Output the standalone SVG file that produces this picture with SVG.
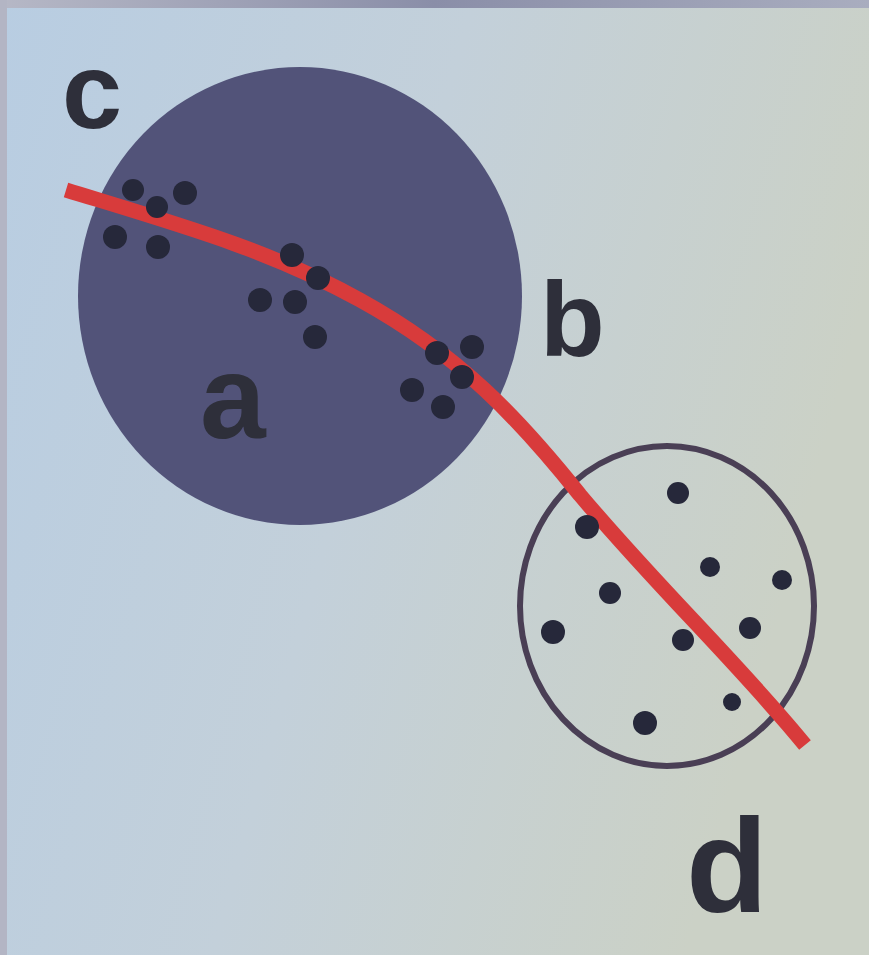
<svg xmlns="http://www.w3.org/2000/svg" width="869" height="955" viewBox="0 0 869 955">
<defs>
<linearGradient id="bg" x1="0" y1="0" x2="1" y2="0.3">
<stop offset="0" stop-color="#b8cde2"/>
<stop offset="0.5" stop-color="#c3d0da"/>
<stop offset="1" stop-color="#cbd1c6"/>
</linearGradient>
<linearGradient id="frame" x1="0" y1="0" x2="1" y2="0">
<stop offset="0" stop-color="#b6b8c6"/>
<stop offset="0.5" stop-color="#8a8ea8"/>
<stop offset="1" stop-color="#a9adbf"/>
</linearGradient>
<style>
.dot{fill:#26283a}
.lbl{font-family:"Liberation Sans",Arial,sans-serif;font-weight:bold;fill:#2e2f3a}
</style>
</defs>
<rect width="869" height="955" fill="url(#bg)"/>
<rect width="869" height="8" fill="url(#frame)"/>
<rect width="7" height="955" fill="#b3b5c4"/>
<g id="circle-a">
<ellipse cx="300" cy="296" rx="222" ry="229" fill="#525379"/>
</g>
<g id="circle-d">
<ellipse cx="667" cy="606" rx="147" ry="160" fill="none" stroke="#4a3f55" stroke-width="6"/>
</g>
<g id="connectors">
<path d="M66,190 C180,225 270,250 360,300 C460,355 520,420 580,495 C660,590 740,665 805,745" fill="none" stroke="#d83b3b" stroke-width="15"/>
</g>
<g id="dots-a">
<circle class="dot" cx="133" cy="190" r="11"/>
<circle class="dot" cx="185" cy="193" r="12"/>
<circle class="dot" cx="157" cy="207" r="11"/>
<circle class="dot" cx="115" cy="237" r="12"/>
<circle class="dot" cx="158" cy="247" r="12"/>
<circle class="dot" cx="292" cy="255" r="12"/>
<circle class="dot" cx="318" cy="278" r="12"/>
<circle class="dot" cx="260" cy="300" r="12"/>
<circle class="dot" cx="295" cy="302" r="12"/>
<circle class="dot" cx="315" cy="337" r="12"/>
<circle class="dot" cx="437" cy="353" r="12"/>
<circle class="dot" cx="472" cy="347" r="12"/>
<circle class="dot" cx="462" cy="377" r="12"/>
<circle class="dot" cx="412" cy="390" r="12"/>
<circle class="dot" cx="443" cy="407" r="12"/>
</g>
<g id="dots-d">
<circle class="dot" cx="678" cy="493" r="11"/>
<circle class="dot" cx="587" cy="527" r="12"/>
<circle class="dot" cx="710" cy="567" r="10"/>
<circle class="dot" cx="782" cy="580" r="10"/>
<circle class="dot" cx="610" cy="593" r="11"/>
<circle class="dot" cx="553" cy="632" r="12"/>
<circle class="dot" cx="683" cy="640" r="11"/>
<circle class="dot" cx="750" cy="628" r="11"/>
<circle class="dot" cx="732" cy="702" r="9"/>
<circle class="dot" cx="645" cy="723" r="12"/>
</g>
<g id="labels">
<text class="lbl" x="62" y="128" font-size="108">c</text>
<text class="lbl" x="540" y="356" font-size="106">b</text>
<text class="lbl" x="200" y="438" font-size="118">a</text>
<text class="lbl" x="686" y="912" font-size="134">d</text>
</g>
</svg>
